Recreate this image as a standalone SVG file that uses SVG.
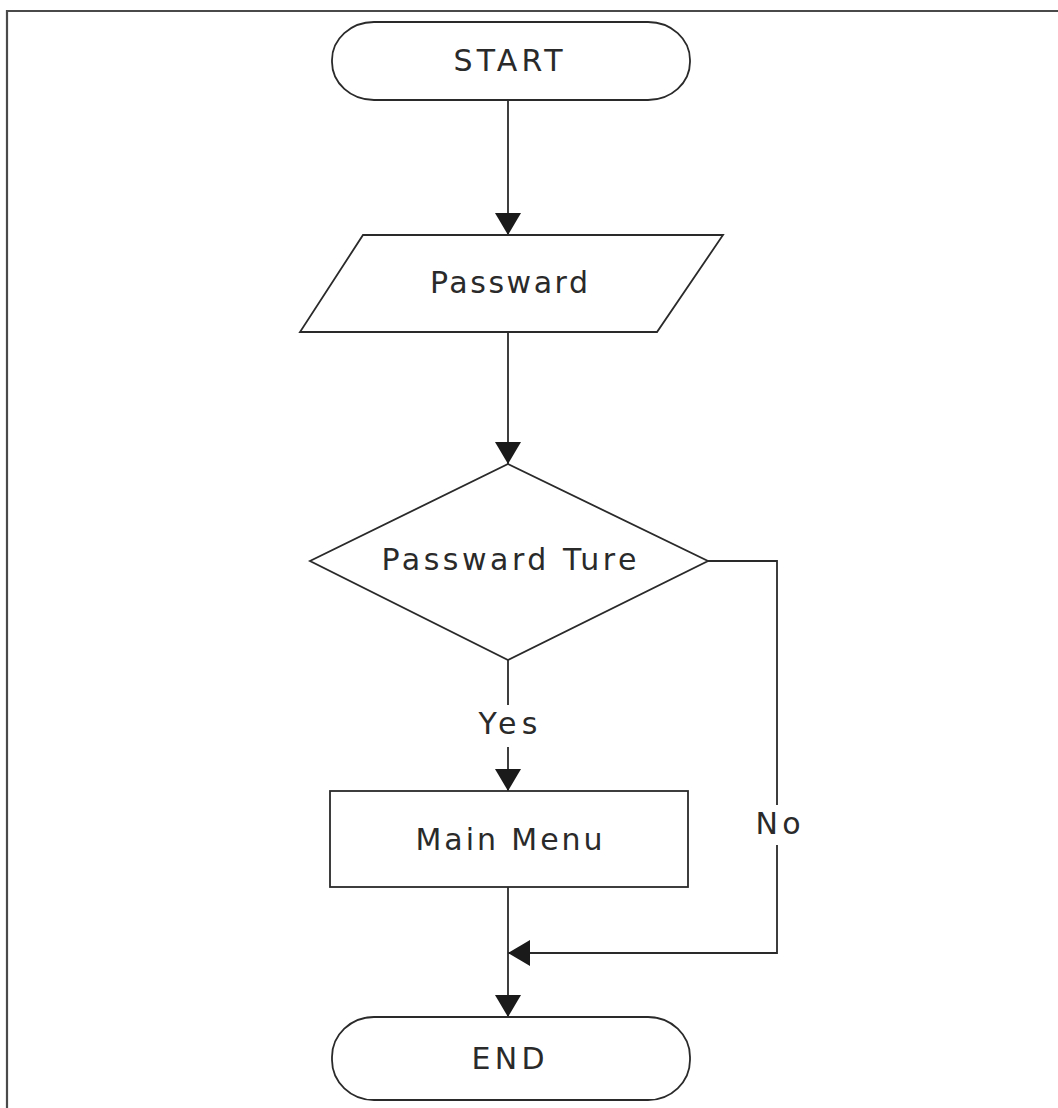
<svg xmlns="http://www.w3.org/2000/svg" width="1058" height="1108" viewBox="0 0 1058 1108">
  <style>
    .shape { fill: #ffffff; stroke: #2a2a2a; stroke-width: 1.8; }
    .conn { fill: none; stroke: #2a2a2a; stroke-width: 1.8; }
    .label { font-family: "DejaVu Sans", Verdana, sans-serif; font-size: 30px; fill: #2a2a2a; text-anchor: middle; }
    .border { fill: none; stroke: #4a4a4a; stroke-width: 2.2; }
  </style>
  <defs>
    <marker id="arrow" markerUnits="userSpaceOnUse" markerWidth="24" markerHeight="26" refX="22" refY="13" orient="auto">
      <path d="M0,0 L22,13 L0,26 Z" fill="#1a1a1a"/>
    </marker>
  </defs>
  <rect width="1058" height="1108" fill="#ffffff"/>
  <path class="border" d="M7,1108 L7,11 L1058,11"/>

  <g id="connectors">
    <line class="conn" x1="508" y1="100" x2="508" y2="235" marker-end="url(#arrow)"/>
    <line class="conn" x1="508" y1="332" x2="508" y2="464" marker-end="url(#arrow)"/>
    <line class="conn" x1="508" y1="660" x2="508" y2="705"/>
    <line class="conn" x1="508" y1="747" x2="508" y2="791" marker-end="url(#arrow)"/>
    <polyline class="conn" points="708,561 777,561 777,805"/>
    <polyline class="conn" points="777,845 777,953 508,953" marker-end="url(#arrow)"/>
    <line class="conn" x1="508" y1="887" x2="508" y2="1017" marker-end="url(#arrow)"/>
    <text class="label" x="508" y="734" textLength="59">Yes</text>
    <text class="label" x="778" y="834" textLength="45">No</text>
  </g>

  <g id="start">
    <rect class="shape" x="332" y="22" width="358" height="78" rx="42" ry="38"/>
    <text class="label" x="508" y="71" textLength="109">START</text>
  </g>

  <g id="password-input">
    <polygon class="shape" points="363,235 723,235 657,332 300,332"/>
    <text class="label" x="509" y="293" textLength="158">Passward</text>
  </g>

  <g id="password-check">
    <polygon class="shape" points="508,464 708,561 508,660 310,561"/>
    <text class="label" x="509" y="570" textLength="255">Passward Ture</text>
  </g>

  <g id="main-menu">
    <rect class="shape" x="330" y="791" width="358" height="96"/>
    <text class="label" x="509" y="850" textLength="187">Main Menu</text>
  </g>

  <g id="end">
    <rect class="shape" x="332" y="1017" width="358" height="83" rx="42" ry="40"/>
    <text class="label" x="508" y="1069" textLength="73">END</text>
  </g>
</svg>
